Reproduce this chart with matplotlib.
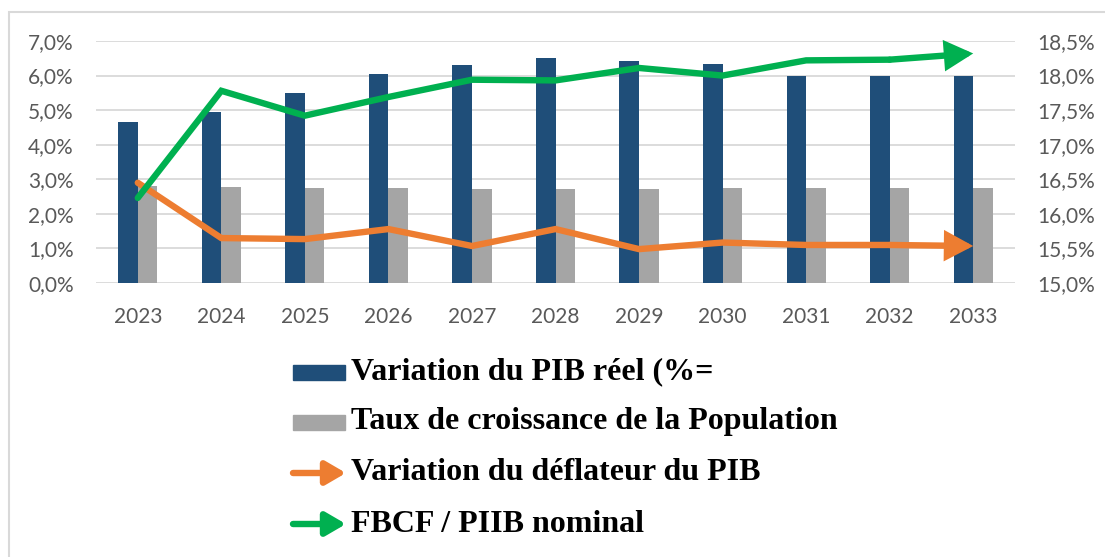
import matplotlib
matplotlib.use("Agg")
from matplotlib import pyplot as plt
from matplotlib.patches import Rectangle, FancyArrowPatch
import numpy as np

years = ["2023", "2024", "2025", "2026", "2027", "2028", "2029", "2030", "2031", "2032", "2033"]
pib_reel = [4.67, 4.96, 5.50, 6.05, 6.30, 6.51, 6.43, 6.33, 6.00, 6.00, 6.00]
population = [2.80, 2.77, 2.76, 2.74, 2.71, 2.72, 2.73, 2.74, 2.74, 2.75, 2.76]
deflateur = [2.90, 1.30, 1.27, 1.56, 1.07, 1.56, 0.98, 1.17, 1.10, 1.10, 1.07]
fbcf = [16.23, 17.78, 17.42, 17.69, 17.94, 17.93, 18.11, 18.00, 18.22, 18.23, 18.32]

labels = ["Variation du PIB réel (%=", "Taux de croissance de la Population",
          "Variation du déflateur du PIB", "FBCF / PIIB nominal"]
left_ticks = [0, 1, 2, 3, 4, 5, 6, 7]
right_ticks = [15.0, 15.5, 16.0, 16.5, 17.0, 17.5, 18.0, 18.5]

c_blue = "#1F4E79"
c_gray = "#A5A5A5"
c_orange = "#ED7D31"
c_green = "#00B050"
c_text = "#595959"
c_grid = "#D9D9D9"

W, H = 1105, 557
fig = plt.figure(figsize=(W / 100, H / 100), dpi=100)

# chart frame (light grey box cut by the page)
fig.patches.append(Rectangle((9 / W, -0.1), 1.2, 1 - 12 / H + 0.1, transform=fig.transFigure,
                             fill=False, edgecolor=c_grid, lw=1.5))

ax = fig.add_axes([96 / W, 1 - 283 / H, 919 / W, 242 / H])
ax2 = ax.twinx()

x = np.arange(len(years))
bw = 0.235
ax.bar(x - bw / 2, pib_reel, bw, color=c_blue, zorder=2)
ax.bar(x + bw / 2, population, bw, color=c_gray, zorder=2)

ax.set_xlim(-0.5, len(years) - 0.5)
ax.set_ylim(0, 7)
ax2.set_ylim(15, 18.5)
ax.set_yticks(left_ticks)
ax.set_yticklabels([f"{v:.1f}%".replace(".", ",") for v in left_ticks])
ax2.set_yticks(right_ticks)
ax2.set_yticklabels([f"{v:.1f}%".replace(".", ",") for v in right_ticks])
ax.set_xticks(x)
ax.set_xticklabels(years)

for a in (ax, ax2):
    for s in a.spines.values():
        s.set_visible(False)
    a.tick_params(length=0, labelsize=15, labelcolor=c_text)
    for t in a.get_xticklabels() + a.get_yticklabels():
        t.set_fontfamily("Lato")
ax.tick_params(axis="y", pad=16)
ax2.tick_params(axis="y", pad=16)
ax.tick_params(axis="x", pad=17)
ax.yaxis.grid(True, color=c_grid, lw=1.3, zorder=0)
ax.set_axisbelow(True)

lw = 4.6


def arrow_line(axis, vals, color):
    axis.plot(x[:-1], vals[:-1], color=color, lw=lw, solid_capstyle="round",
              solid_joinstyle="miter", zorder=3)
    axis.annotate("", xy=(x[-1], vals[-1]), xytext=(x[-2], vals[-2]),
                  arrowprops=dict(arrowstyle="-|>,head_length=1.4,head_width=0.75",
                                  color=color, lw=lw, mutation_scale=10,
                                  shrinkA=0, shrinkB=0, joinstyle="miter"),
                  zorder=3)


arrow_line(ax, deflateur, c_orange)
arrow_line(ax2, fbcf, c_green)

# legend drawn below the plot
rows = [372, 422, 473, 524]
for i, (lab, y) in enumerate(zip(labels, rows)):
    yf = 1 - y / H
    if i < 2:
        fig.patches.append(Rectangle((293 / W, yf - 7.5 / H), 52 / W, 15 / H,
                                     transform=fig.transFigure,
                                     color=[c_blue, c_gray][i]))
    else:
        col = [c_orange, c_green][i - 2]
        fig.patches.append(FancyArrowPatch((293 / W, yf), (346 / W, yf),
                                           transform=fig.transFigure,
                                           arrowstyle="-|>,head_length=1.2,head_width=0.7",
                                           mutation_scale=10, color=col, lw=lw,
                                           capstyle="round", shrinkA=0, shrinkB=0))
    fig.text(351 / W, yf, lab, fontsize=23, fontweight="bold",
             family="Liberation Serif", va="center", ha="left", color="black")

fig.savefig("out.png", dpi=100)
